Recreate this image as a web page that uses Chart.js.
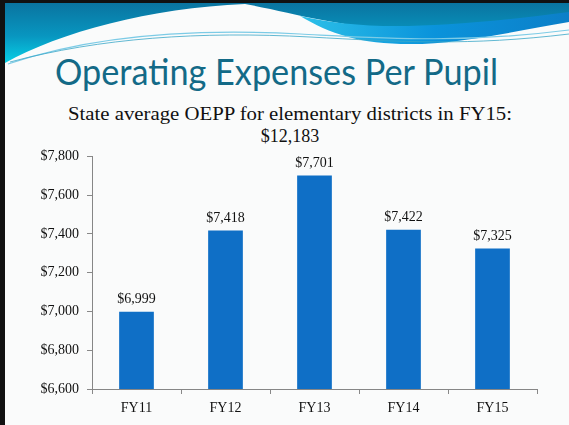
<!DOCTYPE html>
<html>
<head>
<meta charset="utf-8">
<title>Operating Expenses Per Pupil</title>
<script src="https://cdn.jsdelivr.net/npm/chart.js@4.4.0/dist/chart.umd.min.js"></script>
<style>
  html, body { margin: 0; padding: 0; }
  body { width: 569px; height: 425px; overflow: hidden; background: #fafbfb; position: relative; }
  #deco { position: absolute; left: 0; top: 0; }
  #wrap { position: absolute; left: 0; top: 140px; width: 569px; height: 285px; }
</style>
</head>
<body>
<svg id="deco" width="569" height="425" xmlns="http://www.w3.org/2000/svg">
  <defs>
    <linearGradient id="teal" x1="0" y1="0" x2="0" y2="1">
      <stop offset="0" stop-color="#0a74a0"/>
      <stop offset="0.55" stop-color="#0896c0"/>
      <stop offset="1" stop-color="#07d0e6"/>
    </linearGradient>
    <linearGradient id="band" x1="0" y1="0" x2="1" y2="0">
      <stop offset="0" stop-color="#2cc0e8"/>
      <stop offset="0.5" stop-color="#0a93db"/>
      <stop offset="1" stop-color="#0c7fc8"/>
    </linearGradient>
  </defs>
  <path d="M5,3 H569 V15 C520,20 460,30 410,30 C340,28 290,12 245,4 C150,8 60,32 5,63 Z" fill="url(#teal)"/>
  <path d="M300,16 C360,30 430,30 569,12 V22 C510,32 460,44 410,44 C360,44 330,34 300,16 Z" fill="url(#band)"/>
  <path d="M8,64 C90,36 190,28 300,34 C380,38 460,44 569,30" fill="none" stroke="#7ccbe6" stroke-width="1.2"/>
  <path d="M10,62 C100,38 200,31 310,37 C400,42 470,46 569,34" fill="none" stroke="#3aa7c8" stroke-width="0.8"/>
  <rect x="0" y="0" width="569" height="3" fill="#111"/>
  <rect x="0" y="0" width="5" height="425" fill="#111"/>
  <text x="55" y="85" font-family="Lato, 'Open Sans', sans-serif" font-size="36" fill="#136a87" textLength="443" lengthAdjust="spacingAndGlyphs">Operating Expenses Per Pupil</text>
  <text x="68" y="120" font-family="'Liberation Serif', 'DejaVu Serif', serif" font-size="18" fill="#111" textLength="444" lengthAdjust="spacingAndGlyphs">State average OEPP for elementary districts in FY15:</text>
  <text x="290" y="142" text-anchor="middle" font-family="'Liberation Serif', 'DejaVu Serif', serif" font-size="18" fill="#111">$12,183</text>
</svg>
<div id="wrap"><canvas id="oepp"></canvas></div>
<script>
const years = ['FY11', 'FY12', 'FY13', 'FY14', 'FY15'];
const oepp = [6999, 7418, 7701, 7422, 7325];
const axisMin = 6600;
const axisMax = 7800;
const axisStep = 200;

const money = v => '$' + Number(v).toLocaleString('en-US');
const serif = "'Liberation Serif', 'DejaVu Serif', serif";

// value labels above each bar
const barLabels = {
    id: 'barLabels',
    afterDatasetsDraw(chart) {
        const ctx = chart.ctx;
        const meta = chart.getDatasetMeta(0);
        ctx.save();
        ctx.font = '14px ' + serif;
        ctx.fillStyle = '#111';
        ctx.textAlign = 'center';
        ctx.textBaseline = 'bottom';
        meta.data.forEach((bar, i) => {
            ctx.fillText(money(oepp[i]), bar.x, bar.y - 5);
        });
        ctx.restore();
    }
};

new Chart(document.getElementById('oepp'), {
    type: 'bar',
    data: {
        labels: years,
        datasets: [{
            data: oepp,
            backgroundColor: '#0f6fc6',
            categoryPercentage: 1,
            barPercentage: 0.39
        }]
    },
    options: {
        responsive: true,
        maintainAspectRatio: false,
        animation: false,
        layout: { padding: { left: 0, right: 32, top: 12, bottom: 0 } },
        plugins: { legend: { display: false }, tooltip: { enabled: false } },
        scales: {
            x: {
                grid: { display: true, drawOnChartArea: false, drawTicks: true, tickLength: 5, color: '#888' },
                border: { display: true, color: '#868686', width: 1 },
                ticks: { color: '#111', font: { family: serif, size: 14 }, padding: 6 },
                afterFit: s => { s.height = 36; }
            },
            y: {
                min: axisMin,
                max: axisMax,
                grid: { display: true, drawOnChartArea: false, drawTicks: true, tickLength: 5, color: '#888' },
                border: { display: true, color: '#868686', width: 1 },
                ticks: { stepSize: axisStep, color: '#111', font: { family: serif, size: 14 }, padding: 8, callback: v => money(v) },
                afterFit: s => { s.width = 92; }
            }
        }
    },
    plugins: [barLabels]
});
</script>
</body>
</html>
